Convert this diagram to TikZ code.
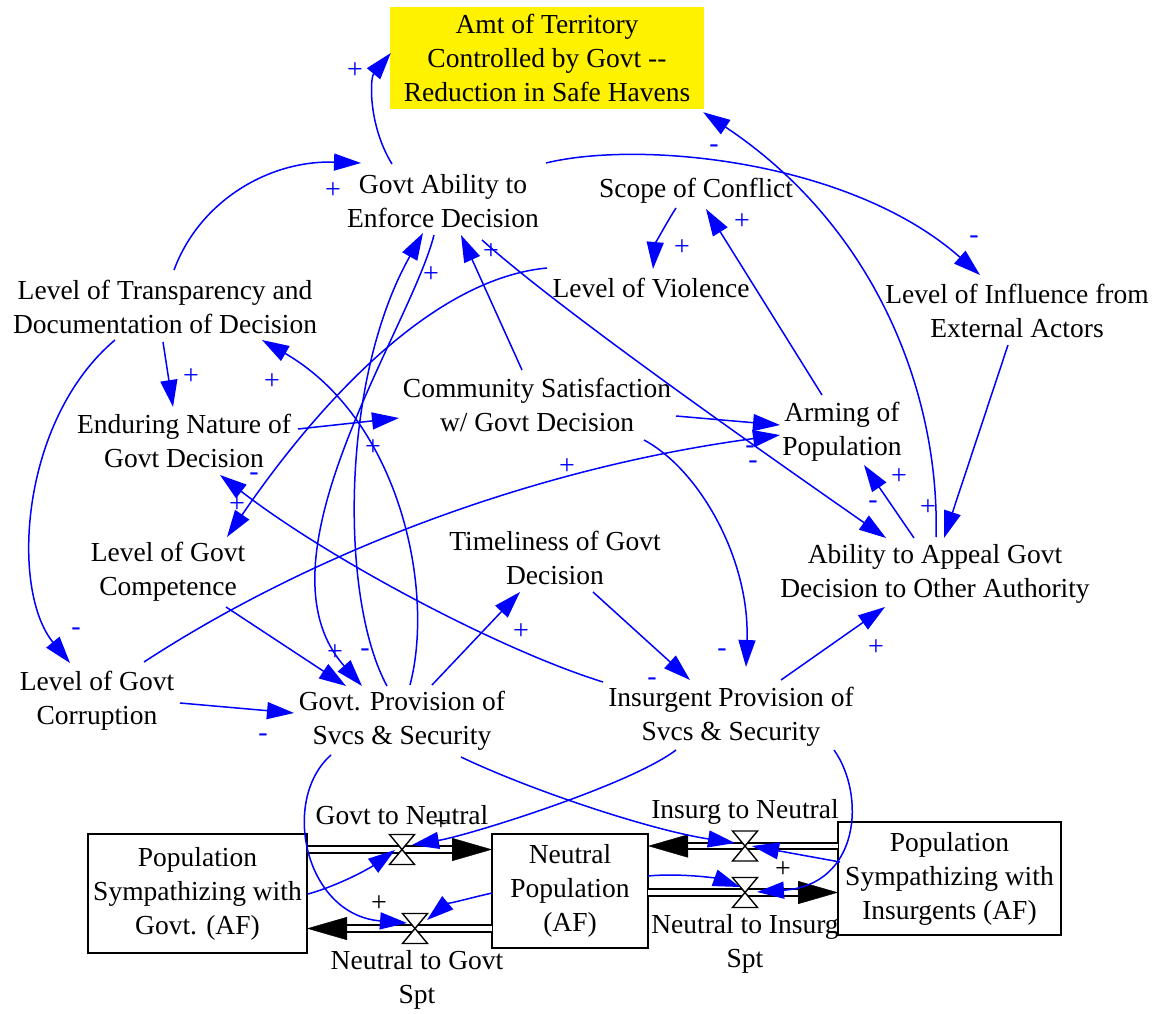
\documentclass[tikz,border=0pt]{standalone}
\usepackage{fontspec}
\setmainfont{Liberation Serif}
\usetikzlibrary{arrows.meta,calc}
\begin{document}
\begin{tikzpicture}[x=1pt,y=-1pt,
  lbl/.style={align=center, inner sep=0pt, font=\fontsize{27.5}{34}\selectfont},
  stock/.style={lbl, draw=black, line width=1.8pt, outer sep=0pt},
  link/.style={draw=blue, line width=1.5pt, -{Triangle[length=27pt,width=17pt]}},
  fromflow/.style={link},
  pol/.style={text=blue, inner sep=0pt, font=\fontsize{28}{28}\selectfont},
  polk/.style={pol, text=black},
  pipe/.style={draw=black, line width=1.8pt, double=white, double distance=4.6pt, shorten >=38pt},
  pipetip/.style={draw=white, line width=0.4pt, -{Triangle[length=40pt,width=23pt,color=black]}},
  valve/.pic={\draw[fill=white, line width=1.4pt, line join=miter]
      (-12.5,-15) -- (12.5,-15) -- (-12.5,15) -- (12.5,15) -- cycle;}
]
\useasboundingbox (0,0) rectangle (1156,1014);

% ---------- variables ----------
\node[lbl, fill=yellow, minimum width=314pt, minimum height=102pt] (amt) at (547,58)
  {Amt of Territory\\Controlled by Govt -{}-\\Reduction in Safe Havens};
\node[lbl] (gae) at (443,201) {Govt Ability to\\Enforce Decision};
\node[lbl] (scope) at (696,191) {Scope of Conflict};
\node[lbl] (viol) at (651,288) {Level of Violence};
\node[lbl] (transp) at (165,307) {Level of Transparency and\\Documentation of Decision};
\node[lbl] (infl) at (1017,311) {Level of Influence from\\External Actors};
\node[lbl] (comsat) at (537,405) {Community Satisfaction\\w/ Govt Decision};
\node[lbl] (arming) at (842,432) {Arming of\\Population};
\node[lbl] (enduring) at (184,441) {Enduring Nature of\\Govt Decision};
\node[lbl] (timely) at (555,558) {Timeliness of Govt\\Decision};
\node[lbl] (appeal) at (935,574) {Ability to Appeal Govt\\Decision to Other Authority};
\node[lbl] (compet) at (168,572) {Level of Govt\\Competence};
\node[lbl] (corrupt) at (97,701) {Level of Govt\\Corruption};
\node[lbl] (govprov) at (402,721) {Govt. Provision of\\Svcs \& Security};
\node[lbl] (insprov) at (731,717) {Insurgent Provision of\\Svcs \& Security};

% ---------- stocks ----------
\node[stock, minimum width=219pt, minimum height=119pt] (pgov) at (197.5,893.5)
  {Population\\Sympathizing with\\Govt. (AF)};
\node[stock, minimum width=156pt, minimum height=114pt] (pneut) at (570,891)
  {Neutral\\Population\\(AF)};
\node[stock, minimum width=223pt, minimum height=113pt] (pins) at (949.5,878.5)
  {Population\\Sympathizing with\\Insurgents (AF)};

% ---------- flows ----------
\coordinate (v1) at (402,849.5);
\coordinate (v2) at (415,928.5);
\coordinate (v3) at (745,846);
\coordinate (v4) at (745,892.5);

\draw[pipe] (pgov.east |- v1) -- (pneut.west |- v1);
\draw[pipetip] (pgov.east |- v1) -- (pneut.west |- v1);
\draw[pipe] (pneut.west |- v2) -- (pgov.east |- v2);
\draw[pipetip] (pneut.west |- v2) -- (pgov.east |- v2);
\draw[pipe] (pins.west |- v3) -- (pneut.east |- v3);
\draw[pipetip] (pins.west |- v3) -- (pneut.east |- v3);
\draw[pipe] (pneut.east |- v4) -- (pins.west |- v4);
\draw[pipetip] (pneut.east |- v4) -- (pins.west |- v4);

\pic at (v1) {valve};
\pic at (v2) {valve};
\pic at (v3) {valve};
\pic at (v4) {valve};

\node[lbl] (fl1) at (402,815) {Govt to Neutral};
\node[lbl] (fl2) at (417,980) {Neutral to Govt\\Spt};
\node[lbl] (fl3) at (745,812) {Insurg to Neutral};
\node[lbl] (fl4) at (745,944) {Neutral to Insurg\\Spt};

% ---------- causal links ----------
\draw[link] ($(gae)+(-51,-37)$) .. controls (368,125) and (370,78) .. ($(amt.west)+(1,-5)$);
\draw[link] ($(transp)+(9,-37)$) .. controls (200,200) and (270,160) .. ($(gae)+(-82,-38)$);
\draw[link] ($(gae)+(103,-38)$) .. controls (640,140) and (850,160) .. ($(infl)+(-37,-36)$);
\draw[link] ($(appeal)+(1,-37)$) .. controls (940,400) and (880,230) .. ($(amt.south east)+(-1,3)$);
\draw[link] ($(scope)+(-20,17)$) .. controls (665,225) and (655,245) .. ($(viol)+(2,-19)$);
\draw[link] ($(arming)+(-20,-37)$) -- ($(scope)+(10,18)$);
\draw[link] ($(viol)+(-104,-20)$) .. controls (420,280) and (300,430) .. ($(compet)+(59,-35)$);
\draw[link] ($(gae)+(39,39)$) .. controls (560,310) and (760,450) .. ($(appeal)+(-49,-36)$);
\draw[link] ($(comsat)+(-15,-35)$) -- ($(gae)+(18,34)$);
\draw[link] ($(comsat)+(139,11)$) -- ($(arming)+(-62,-7)$);
\draw[link] ($(corrupt)+(47,-39)$) .. controls (300,560) and (520,470) .. ($(arming)+(-62,3)$);
\draw[link] ($(comsat)+(107,35)$) .. controls (700,470) and (750,560) .. ($(insprov)+(15,-50)$);
\draw[link] ($(enduring)+(114,-12)$) -- ($(comsat)+(-138,13)$);
\draw[link] ($(transp)+(-2,35)$) -- ($(enduring)+(-11,-34)$);
\draw[link] ($(transp)+(-50,33)$) .. controls (20,420) and (10,590) .. ($(corrupt)+(-27,-38)$);
\draw[link] ($(insprov)+(-128,-35)$) .. controls (500,650) and (330,560) .. ($(enduring)+(36,34)$);
\draw[link] ($(timely)+(38,34)$) -- ($(insprov)+(-41,-37)$);
\draw[link] ($(insprov)+(50,-37)$) -- ($(appeal)+(-50,33)$);
\draw[link] ($(infl)+(-9,34)$) -- ($(appeal)+(9,-36)$);
\draw[link] ($(appeal)+(-21,-36)$) -- ($(arming)+(22,33)$);
\draw[link] ($(compet)+(58,35)$) -- ($(govprov)+(-56,-35)$);
\draw[link] ($(corrupt)+(83,2)$) -- ($(govprov)+(-108,-8)$);
\draw[link] ($(govprov)+(-15,-35)$) .. controls (340,600) and (340,380) .. ($(gae)+(-20,32)$);
\draw[link] ($(gae)+(-9,34)$) .. controls (410,330) and (250,560) .. ($(govprov)+(-40,-35)$);
\draw[link] ($(govprov)+(8,-36)$) .. controls (435,590) and (400,420) .. ($(transp)+(97,33)$);
\draw[link] ($(govprov)+(30,-36)$) -- ($(timely)+(-35,34)$);

% links into the flow valves
\draw[fromflow] ($(govprov)+(59,36)$) .. controls (530,790) and (650,830) .. ($(v3)+(-10,-3)$);
\draw[fromflow] ($(insprov)+(-55,33)$) .. controls (630,785) and (470,835) .. ($(v1)+(10,-4.5)$);
\draw[fromflow] ($(govprov)+(-71,34)$) .. controls (280,800) and (305,915) .. ($(v2)+(-8,-5.5)$);
\draw[fromflow] ($(pgov.east)+(1,0.5)$) .. controls (340,885) and (370,868) .. ($(v1)+(-7,0.5)$);
\draw[fromflow] ($(pneut.west)+(0,2)$) .. controls (470,898) and (445,905) .. ($(v2)+(12,-8.5)$);
\draw[fromflow] ($(pneut.east)+(0,-15)$) .. controls (680,873) and (715,878) .. ($(v4)+(-5,-5.5)$);
\draw[fromflow] ($(pins.west)+(2,-16.5)$) -- ($(v3)+(7,0)$);
\draw[fromflow] ($(insprov)+(103,33)$) .. controls (866,795) and (860,885) .. ($(v4)+(12,-0.5)$);

% ---------- polarities ----------
\node[pol] (p1) at (355,71) {+};
\node[pol] (p2) at (333,191) {+};
\node[pol] (p3) at (714,149) {-};
\node[pol] (p4) at (974,240) {-};
\node[pol] (p5) at (682,248) {+};
\node[pol] (p6) at (742,222) {+};
\node[pol] (p7) at (431,275) {+};
\node[pol] (p8) at (491,252) {+};
\node[pol] (p9) at (191,377) {+};
\node[pol] (p10) at (272,382) {+};
\node[pol] (p11) at (373,448) {+};
\node[pol] (p12) at (254,477) {-};
\node[pol] (p13) at (237,505) {+};
\node[pol] (p14) at (567,467) {+};
\node[pol] (p15) at (750,450) {-};
\node[pol] (p16) at (753,465) {-};
\node[pol] (p17) at (899,477) {+};
\node[pol] (p18) at (873,505) {-};
\node[pol] (p19) at (928,508) {+};
\node[pol] (p20) at (76,632) {-};
\node[pol] (p21) at (521,632) {+};
\node[pol] (p22) at (335,653) {+};
\node[pol] (p23) at (365,653) {-};
\node[pol] (p24) at (722,653) {-};
\node[pol] (p25) at (652,682) {-};
\node[pol] (p26) at (876,648) {+};
\node[pol] (p27) at (263,738) {-};
\node[polk] (p28) at (441,823) {+};
\node[polk] (p29) at (379,904) {+};
\node[polk] (p30) at (783,870) {+};
\end{tikzpicture}
\end{document}
